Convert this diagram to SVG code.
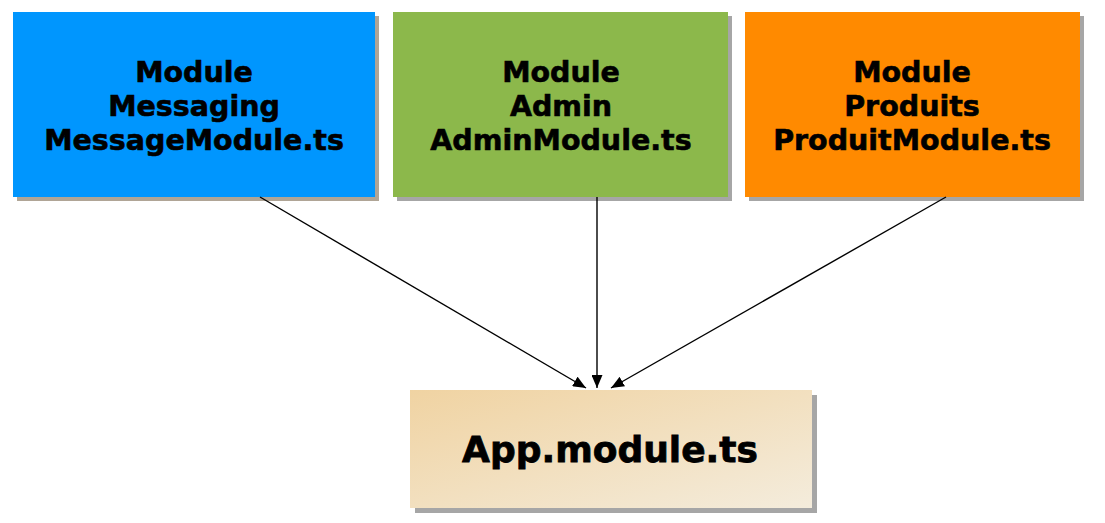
<svg xmlns="http://www.w3.org/2000/svg" width="1105" height="523" viewBox="0 0 1105 523">
<defs>
<linearGradient id="appGrad" x1="0" y1="0" x2="1" y2="1">
<stop offset="0" stop-color="#f0d3a2"/>
<stop offset="1" stop-color="#f4ecdc"/>
</linearGradient>
<marker id="arr" viewBox="0 0 13 11" refX="13" refY="5.5" markerWidth="13" markerHeight="11" markerUnits="userSpaceOnUse" orient="auto">
<path d="M0,0 L13,5.5 L0,11 Z" fill="#000"/>
</marker>
<style>
.shadow{fill:#a6a6a6;}
.lbl{font-family:"DejaVu Sans","Verdana",sans-serif;font-weight:bold;font-size:28.5px;fill:#000;stroke:#000;stroke-width:0.6;text-anchor:middle;}
.big{font-size:36px;stroke-width:0.8;}
.conn{stroke:#000;stroke-width:1.4;fill:none;marker-end:url(#arr);}
</style>
</defs>
<rect width="1105" height="523" fill="#ffffff"/>
<g id="messaging">
<rect x="17" y="16" width="362" height="185" fill="#b0a596"/>
<rect x="13" y="12" width="362" height="185" fill="#0096fe"/>
<text class="lbl" x="194" y="82">Module</text>
<text class="lbl" x="194" y="116">Messaging</text>
<text class="lbl" x="194" y="150">MessageModule.ts</text>
</g>
<g id="admin">
<rect class="shadow" x="397" y="16" width="335" height="185"/>
<rect x="393" y="12" width="335" height="185" fill="#8cb84b"/>
<text class="lbl" x="561" y="82">Module</text>
<text class="lbl" x="561" y="116">Admin</text>
<text class="lbl" x="561" y="150">AdminModule.ts</text>
</g>
<g id="produits">
<rect class="shadow" x="749" y="16" width="335" height="185"/>
<rect x="745" y="12" width="335" height="185" fill="#ff8a00"/>
<text class="lbl" x="912" y="82">Module</text>
<text class="lbl" x="912" y="116">Produits</text>
<text class="lbl" x="912" y="150">ProduitModule.ts</text>
</g>
<g id="app">
<rect class="shadow" x="415" y="395" width="402" height="118"/>
<rect x="410" y="390" width="402" height="118" fill="url(#appGrad)"/>
<text class="lbl big" x="610" y="462">App.module.ts</text>
</g>
<g id="connectors">
<line class="conn" x1="260" y1="197" x2="586" y2="388"/>
<line class="conn" x1="597" y1="197" x2="597" y2="388"/>
<line class="conn" x1="946" y1="197" x2="611" y2="388"/>
</g>
</svg>
